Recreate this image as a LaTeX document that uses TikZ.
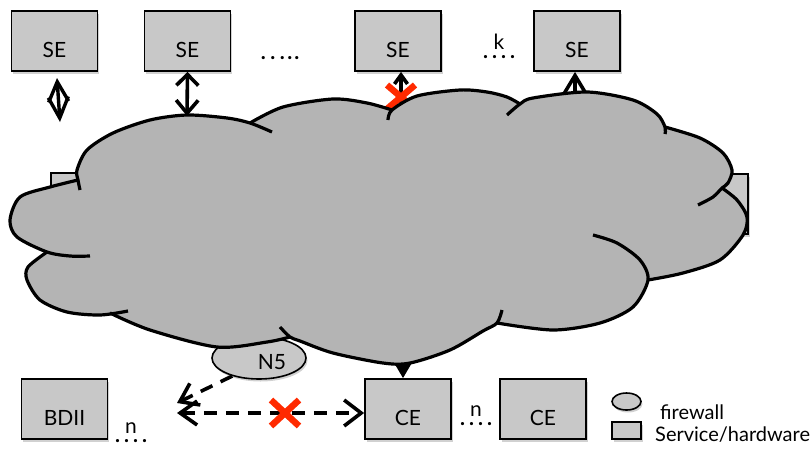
\documentclass[tikz,border=0pt]{standalone}
\usepackage{fontspec}
\setmainfont{Lato}
\usetikzlibrary{arrows.meta,shapes.geometric,shadows}
\definecolor{boxgray}{RGB}{200,200,200}
\definecolor{cloudgray}{RGB}{180,180,180}
\definecolor{xred}{RGB}{255,42,0}
\newcommand{\dotsfour}{\textbf{.\hspace{4pt}.\hspace{4pt}.\hspace{4pt}.}}
\newcommand{\dotsfive}{\textbf{.\hspace{4.5pt}.\hspace{4.5pt}.\hspace{2.5pt}.\hspace{2pt}.}}
\begin{document}
\begin{tikzpicture}[x=1pt,y=-1pt,
  font=\fontsize{21}{24}\selectfont,
  shad/.style={drop shadow={shadow xshift=1.5pt,shadow yshift=-2.5pt,opacity=0.18,fill=black}},
  hw/.style={draw,line width=1.8pt,fill=boxgray,minimum width=86pt,minimum height=60pt,
    inner sep=0pt,text height=33pt,text depth=0pt,shad},
  fw/.style={ellipse,draw,line width=1.6pt,fill=boxgray,inner sep=0pt,shad},
  cloudline/.style={line width=3.2pt,line cap=butt},
  conn/.style={line width=3.6pt},
  dconn/.style={line width=3.6pt,dash pattern=on 13pt off 9pt},
  xmark/.style={draw=xred,line width=6.5pt},
  lab/.style={inner sep=0pt,anchor=base},
  stk/.style={inner sep=0pt,anchor=south,align=center},
  legtext/.style={inner sep=0pt,anchor=base west,font=\fontsize{20}{23}\selectfont}]
\useasboundingbox (0,0) rectangle (811,451);

% ---- elements partly hidden behind the cloud ----
\node[hw] (hl) at (94,203) {};
\node[hw] (hr) at (705,204) {};
\node[fw,minimum width=94pt,minimum height=42pt] (n5) at (259,358) {};
\node[lab] (n5t) at (272,369) {N5};

\node[hw] (se3) at (398,41) {SE};
\node[hw] (se4) at (577,41) {SE};
\coordinate (se3in) at (401,114);
\coordinate (se4in) at (575,120);
\draw[conn,{Straight Barb[length=9pt,width=13pt]}-{Straight Barb[length=9pt,width=13pt]}]
  (se3in |- se3.south) -- (se3in);
\draw[conn,-{Straight Barb[length=20pt,width=24pt]}] (se4in) -- (se4in |- se4.south);
\coordinate (xa) at (401,97);
\draw[xmark] (xa) ++(-14,-12) -- ++(28,24);
\draw[xmark] (xa) ++(14,-12) -- ++(-28,24);

\node[hw] (ce1) at (408,409) {CE};
\coordinate (cein) at (403,330);
\draw[line width=2pt,-{Triangle[length=15pt,width=17pt]}] (cein) -- (cein |- ce1.north);

% ---- cloud ----
\fill[cloudgray]
  plot[smooth] coordinates {(78,180) (77,170) (87,150) (113,133) (150,120) (187,115) (227,118) (250,123)}
  -- plot[smooth] coordinates {(250,123) (283,107) (333,99) (367,103) (392,110)}
  -- plot[smooth] coordinates {(392,110) (417,96) (460,90) (487,92) (507,97) (520,104)}
  -- plot[smooth] coordinates {(520,104) (533,98) (587,92) (633,100) (657,114) (665,127)}
  -- plot[smooth] coordinates {(665,127) (700,138) (723,153) (732,170) (728,183) (722,188)}
  -- plot[smooth] coordinates {(722,188) (737,200) (747,217) (743,235) (720,260) (683,273) (648,280)}
  -- plot[smooth] coordinates {(648,280) (633,307) (600,323) (553,330) (497,323)}
  -- plot[smooth] coordinates {(497,323) (483,331) (450,350) (410,363) (383,363) (333,353) (300,341) (290,337)}
  -- plot[smooth] coordinates {(290,337) (267,342) (217,347) (150,330) (110,313)}
  -- plot[smooth] coordinates {(110,313) (100,315) (67,312) (40,300) (27,280) (28,267) (47,252)}
  -- plot[smooth] coordinates {(47,252) (17,237) (10,220) (20,197) (50,187) (78,180)}
  -- cycle;
\draw[cloudline] plot[smooth] coordinates {(80,190) (78,180) (77,170) (87,150) (113,133) (150,120) (187,115) (227,118) (250,123) (272,132)};
\draw[cloudline] plot[smooth] coordinates {(250,123) (283,107) (333,99) (367,103) (392,110)};
\draw[cloudline] plot[smooth] coordinates {(388,120) (392,110) (417,96) (460,90) (487,92) (507,97) (520,104)};
\draw[cloudline] plot[smooth] coordinates {(507,115) (520,104) (533,98) (587,92) (633,100) (657,114) (665,127) (665,134)};
\draw[cloudline] plot[smooth] coordinates {(665,127) (700,138) (723,153) (732,170) (728,183) (722,188) (713,197) (698,205)};
\draw[cloudline] plot[smooth] coordinates {(722,188) (737,200) (747,217) (743,235) (720,260) (683,273) (648,280)};
\draw[cloudline] plot[smooth] coordinates {(593,235) (617,243) (640,260) (648,280) (633,307) (600,323) (553,330) (497,323)};
\draw[cloudline] plot[smooth] coordinates {(502,310) (497,323) (483,331) (450,350) (410,363) (383,363) (333,353) (300,341) (290,337) (280,327)};
\draw[cloudline] plot[smooth] coordinates {(290,337) (267,342) (217,347) (150,330) (110,313)};
\draw[cloudline] plot[smooth] coordinates {(47,252) (28,267) (27,280) (40,300) (67,312) (100,315) (128,311)};
\draw[cloudline] plot[smooth] coordinates {(78,180) (50,187) (20,197) (10,220) (17,237) (47,252) (70,256) (90,256)};

% ---- top row ----
\node[hw] (se1) at (54.5,41) {SE};
\node[hw] (se2) at (187.5,41) {SE};
\node[lab] (dt1) at (280,59) {\dotsfive};
\node[stk] (k) at (499,59) {k\\[-15pt]\dotsfour};

\coordinate (s1a) at (57,78);
\coordinate (s1b) at (60,122);
\draw[line width=3.4pt,{Straight Barb[length=20pt,width=20pt]}-{Straight Barb[length=21pt,width=20pt]}] (s1a) -- (s1b);
\coordinate (s2b) at (187,116);
\draw[conn,{Straight Barb[length=11pt,width=22pt]}-{Straight Barb[length=13pt,width=22pt]}] (se2.south) -- (s2b);

% ---- bottom row ----
\node[hw] (bdii) at (64.5,409) {BDII};
\node[hw] (ce2) at (543,409) {CE};
\node[stk] (n1) at (131,443) {n\\[-15pt]\dotsfour};
\node[stk] (n2) at (476,426) {n\\[-15pt]\dotsfour};

\coordinate (ba) at (177,403);
\draw[dconn,-{Straight Barb[length=17pt,width=24pt]}] (n5.214) -- (ba);
\coordinate (bb) at (177,413);
\draw[dconn,{Straight Barb[length=17pt,width=24pt]}-{Straight Barb[length=17pt,width=26pt]}] (bb) -- (bb -| ce1.west);
\coordinate (xb) at (285,413);
\draw[xmark] (xb) ++(-14,-13) -- ++(28,26);
\draw[xmark] (xb) ++(14,-13) -- ++(-28,26);

% ---- legend ----
\node[fw,minimum width=29pt,minimum height=17pt] (lgf) at (626.5,401.5) {};
\node[hw,minimum width=29pt,minimum height=17pt,text height=0pt] (lgh) at (626.5,430.5) {};
\node[legtext] (lft) at (660,419) {firewall};
\node[legtext] (lht) at (655,441) {Service/hardware};
\end{tikzpicture}
\end{document}
